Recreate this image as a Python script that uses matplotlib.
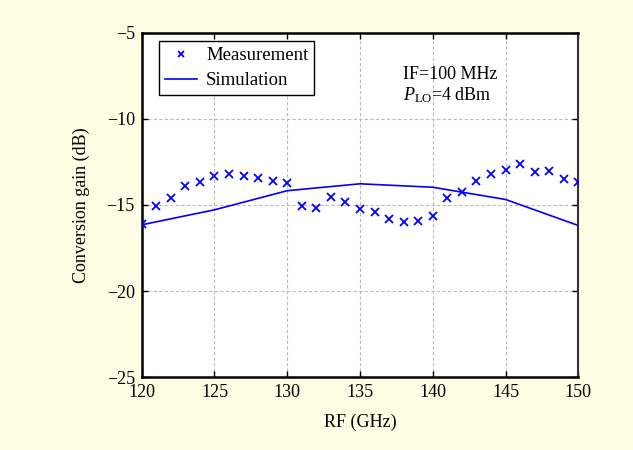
import matplotlib
matplotlib.use("Agg")
import matplotlib.pyplot as plt

freq_meas = list(range(120, 151))
gain_meas = [-16.13, -15.07, -14.60, -13.87, -13.64, -13.33, -13.19, -13.29, -13.45, -13.58,
             -13.75, -15.03, -15.18, -14.52, -14.81, -15.26, -15.38, -15.82, -16.01, -15.90,
             -15.63, -14.60, -14.22, -13.58, -13.19, -12.96, -12.61, -13.10, -13.00, -13.48,
             -13.66]
freq_sim = [120, 125, 130, 135, 140, 145, 150]
gain_sim = [-16.15, -15.28, -14.17, -13.77, -13.97, -14.68, -16.19]

xticks = [120, 125, 130, 135, 140, 145, 150]
yticks = [-25, -20, -15, -10, -5]

plt.rcParams['font.family'] = ['Liberation Serif', 'DejaVu Serif']
plt.rcParams['mathtext.fontset'] = 'custom'
plt.rcParams['mathtext.it'] = 'Liberation Serif:italic'
plt.rcParams['mathtext.rm'] = 'Liberation Serif'

bg = '#FFFDE3'
fig = plt.figure(figsize=(6.33, 4.5), dpi=100, facecolor=bg)
ax = fig.add_axes([0.2239, 0.1616, 0.9136 - 0.2239, 0.9273 - 0.1616])
ax.set_facecolor('white')

ax.plot(freq_meas, gain_meas, linestyle='none', marker='x', color='#0000FF',
        markersize=5.5, markeredgewidth=1.3, label='Measurement', zorder=3)
ax.plot(freq_sim, gain_sim, color='#0000FF', linewidth=1.2, label='Simulation', zorder=3)

ax.set_xlim(120, 150)
ax.set_ylim(-25, -5)
ax.set_xticks(xticks)
ax.set_yticks(yticks)
ax.set_yticklabels(['\u221225', '\u221220', '\u221215', '\u221210', '\u22125'])
ax.tick_params(direction='in', top=True, right=True, labelsize=13, length=4, width=1, pad=5)
ax.grid(True, linestyle=(0, (3, 2)), color='#BBBBBB', linewidth=0.8)
for s in ['left', 'bottom', 'top']:
    ax.spines[s].set_linewidth(1.8)
    ax.spines[s].set_color('black')
ax.spines['right'].set_linewidth(1.5)
ax.spines['right'].set_color('#333333')

ax.set_xlabel('RF (GHz)', fontsize=13, labelpad=9)
ax.set_ylabel('Conversion gain (dB)', fontsize=13, labelpad=12)

leg = ax.legend(loc='upper left', bbox_to_anchor=(0.0398, 0.975), fontsize=13.5,
                fancybox=False, edgecolor='black', framealpha=1, borderpad=0.32,
                handlelength=1.7, handletextpad=0.48, labelspacing=0.41,
                borderaxespad=0.0, markerscale=0.7)
leg.get_frame().set_linewidth(1.0)

ax.text(0.598, 0.880, 'IF=100 MHz', transform=ax.transAxes, fontsize=13, va='center')
ax.text(0.598, 0.818, r'$P_{\mathrm{LO}}$=4 dBm', transform=ax.transAxes, fontsize=13, va='center')

fig.savefig('out.png', dpi=100, facecolor=bg)
